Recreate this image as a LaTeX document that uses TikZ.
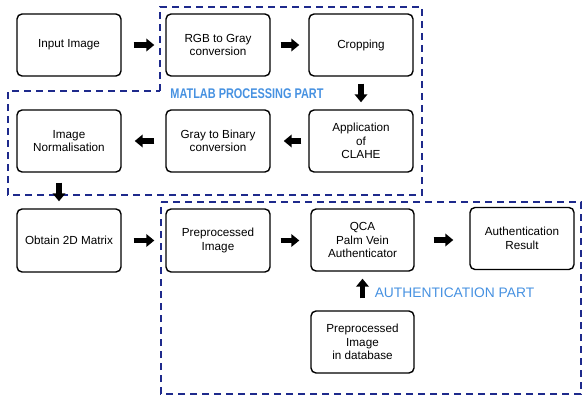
\documentclass[tikz,border=0pt]{standalone}
\usepackage{fontspec}
\setmainfont{Liberation Sans}
\usetikzlibrary{arrows.meta}
\definecolor{regionblue}{RGB}{30,42,140}
\definecolor{labelblue}{RGB}{70,145,225}
\tikzset{
  stepbox/.style={draw=black, line width=1.4pt, rounded corners=5pt, fill=white,
    minimum width=104pt, minimum height=62pt, align=center,
    font=\fontsize{11.7}{13.4}\selectfont, inner sep=2pt},
  blockarrow/.style={line width=5.5pt, -{Triangle[length=8pt,width=12.5pt]}},
  region/.style={draw=regionblue, line width=2pt, dash pattern=on 7pt off 5pt},
  partlabel/.style={text=labelblue, inner sep=0pt}
}
\begin{document}
\begin{tikzpicture}[x=1pt,y=-1pt]
\useasboundingbox (0,0) rectangle (583,398);

% dashed regions
\draw[region] (160,91) -- (160,7) -- (422,7) -- (422,195) -- (8,195) -- (8,91) -- cycle;
\draw[region] (161,202) -- (581,202) -- (581,394) -- (161,394) -- cycle;

% region captions
\node[partlabel, font=\bfseries\fontsize{14}{16}\selectfont, xscale=0.78] (matlab) at (247,94) {MATLAB PROCESSING PART};
\node[partlabel, font=\fontsize{13.8}{16}\selectfont] (authpart) at (454.5,293) {AUTHENTICATION PART};

% processing steps
\node[stepbox] (input) at (69,45) {Input Image};
\node[stepbox] (rgb) at (218,45) {RGB to Gray\\conversion};
\node[stepbox] (crop) at (361,45) {Cropping};
\node[stepbox] (norm) at (69,141) {Image\\Normalisation};
\node[stepbox] (bin) at (218,141) {Gray to Binary\\conversion};
\node[stepbox] (clahe) at (361,141) {Application\\of\\CLAHE};
\node[stepbox, minimum height=63pt] (matrix) at (69,240.5) {Obtain 2D Matrix};
\node[stepbox, minimum height=63pt] (pre) at (218,240.5) {Preprocessed\\Image};
\node[stepbox, minimum width=103pt] (qca) at (362.5,240) {QCA\\Palm Vein\\Authenticator};
\node[stepbox] (result) at (522,238.5) {Authentication\\Result};
\node[stepbox, minimum width=103pt] (db) at (362.5,342) {Preprocessed\\Image\\in database};

% flow arrows
\draw[blockarrow, shorten <=12pt, shorten >=11pt] (input.east) -- (rgb.west);
\draw[blockarrow, shorten <=10pt, shorten >=9pt] (rgb.east) -- (crop.west);
\draw[blockarrow, shorten <=7pt, shorten >=7pt] (crop.south) -- (clahe.north);
\draw[blockarrow, shorten <=7pt, shorten >=13pt] (clahe.west) -- (bin.east);
\draw[blockarrow, shorten <=11pt, shorten >=13pt] (bin.west) -- (norm.east);
\draw[blockarrow, shorten <=10pt, shorten >=7pt] ([xshift=-10pt]norm.south) -- ([xshift=-10pt]matrix.north);
\draw[blockarrow, shorten <=12pt, shorten >=11pt] (matrix.east) -- (pre.west);
\draw[blockarrow, shorten <=10pt, shorten >=11pt] (pre.east) -- (pre.east -| qca.west);
\draw[blockarrow, shorten <=19pt, shorten >=16pt] (qca.east) -- (qca.east -| result.west);
\draw[blockarrow, shorten <=12pt, shorten >=7pt] (db.north) -- (qca.south);
\end{tikzpicture}
\end{document}
